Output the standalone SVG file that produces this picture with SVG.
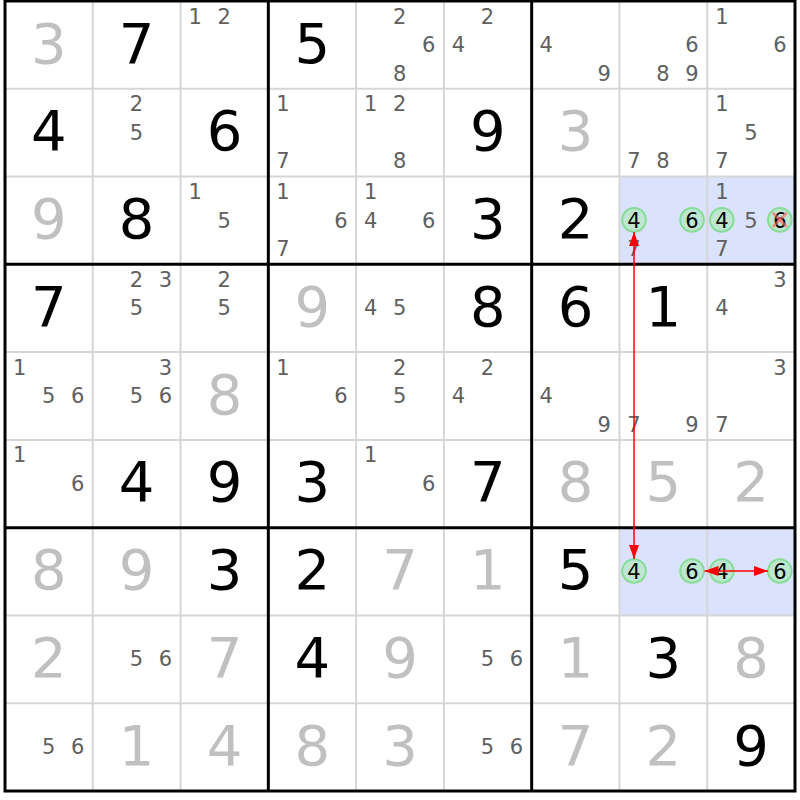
<svg xmlns="http://www.w3.org/2000/svg" width="800" height="800" viewBox="0 0 800 800">
<defs>
<style>
text{font-family:"DejaVu Sans","Liberation Sans",sans-serif;text-anchor:middle}
.b{font-size:56px;fill:#000}
.g{font-size:56px;fill:#c0c0c0}
.c{font-size:21px;fill:#606060}
.h{font-size:21px;fill:#000}
.hl{fill:#dae3fb}
.ring{fill:#90ee90;fill-opacity:0.38;stroke:#86dc96;stroke-width:2}
.thin{stroke:#d6d6d6;stroke-width:2}
.thick{stroke:#000;stroke-width:3}
.link{stroke:#ff0000;stroke-width:1.5;fill:none}
.x{stroke:#ff6060;stroke-opacity:0.6;stroke-width:3}
</style>
<marker id="ah" viewBox="0 0 14 10" refX="14" refY="5" markerWidth="14" markerHeight="10" markerUnits="userSpaceOnUse" orient="auto-start-reverse"><path d="M0,0 L14,5 L0,10 z" fill="#ff0000"/></marker>
</defs>
<rect x="0" y="0" width="800" height="800" fill="#fff"/>
<g id="cells">
<!-- row 0 -->
<g id="r0c0" transform="translate(5,1)"><text class="g" x="43.9" y="61.5">3</text></g>
<g id="r0c1" transform="translate(92.78,1)"><text class="b" x="43.9" y="61.5">7</text></g>
<g id="r0c2" transform="translate(180.56,1)"><text class="c" x="14.6" y="22.5">1</text><text class="c" x="43.6" y="22.5">2</text></g>
<g id="r0c3" transform="translate(268.33,1)"><text class="b" x="43.9" y="61.5">5</text></g>
<g id="r0c4" transform="translate(356.11,1)"><text class="c" x="43.6" y="22.5">2</text><text class="c" x="72.6" y="51">6</text><text class="c" x="43.6" y="79.5">8</text></g>
<g id="r0c5" transform="translate(443.89,1)"><text class="c" x="43.6" y="22.5">2</text><text class="c" x="14.6" y="51">4</text></g>
<g id="r0c6" transform="translate(531.67,1)"><text class="c" x="14.6" y="51">4</text><text class="c" x="72.6" y="79.5">9</text></g>
<g id="r0c7" transform="translate(619.44,1)"><text class="c" x="72.6" y="51">6</text><text class="c" x="43.6" y="79.5">8</text><text class="c" x="72.6" y="79.5">9</text></g>
<g id="r0c8" transform="translate(707.22,1)"><text class="c" x="14.6" y="22.5">1</text><text class="c" x="72.6" y="51">6</text></g>
<!-- row 1 -->
<g id="r1c0" transform="translate(5,88.78)"><text class="b" x="43.9" y="61.5">4</text></g>
<g id="r1c1" transform="translate(92.78,88.78)"><text class="c" x="43.6" y="22.5">2</text><text class="c" x="43.6" y="51">5</text></g>
<g id="r1c2" transform="translate(180.56,88.78)"><text class="b" x="43.9" y="61.5">6</text></g>
<g id="r1c3" transform="translate(268.33,88.78)"><text class="c" x="14.6" y="22.5">1</text><text class="c" x="14.6" y="79.5">7</text></g>
<g id="r1c4" transform="translate(356.11,88.78)"><text class="c" x="14.6" y="22.5">1</text><text class="c" x="43.6" y="22.5">2</text><text class="c" x="43.6" y="79.5">8</text></g>
<g id="r1c5" transform="translate(443.89,88.78)"><text class="b" x="43.9" y="61.5">9</text></g>
<g id="r1c6" transform="translate(531.67,88.78)"><text class="g" x="43.9" y="61.5">3</text></g>
<g id="r1c7" transform="translate(619.44,88.78)"><text class="c" x="14.6" y="79.5">7</text><text class="c" x="43.6" y="79.5">8</text></g>
<g id="r1c8" transform="translate(707.22,88.78)"><text class="c" x="14.6" y="22.5">1</text><text class="c" x="43.6" y="51">5</text><text class="c" x="14.6" y="79.5">7</text></g>
<!-- row 2 -->
<g id="r2c0" transform="translate(5,176.56)"><text class="g" x="43.9" y="61.5">9</text></g>
<g id="r2c1" transform="translate(92.78,176.56)"><text class="b" x="43.9" y="61.5">8</text></g>
<g id="r2c2" transform="translate(180.56,176.56)"><text class="c" x="14.6" y="22.5">1</text><text class="c" x="43.6" y="51">5</text></g>
<g id="r2c3" transform="translate(268.33,176.56)"><text class="c" x="14.6" y="22.5">1</text><text class="c" x="72.6" y="51">6</text><text class="c" x="14.6" y="79.5">7</text></g>
<g id="r2c4" transform="translate(356.11,176.56)"><text class="c" x="14.6" y="22.5">1</text><text class="c" x="14.6" y="51">4</text><text class="c" x="72.6" y="51">6</text></g>
<g id="r2c5" transform="translate(443.89,176.56)"><text class="b" x="43.9" y="61.5">3</text></g>
<g id="r2c6" transform="translate(531.67,176.56)"><text class="b" x="43.9" y="61.5">2</text></g>
<g id="r2c7" transform="translate(619.44,176.56)"><rect class="hl" x="0" y="0" width="87.78" height="87.78"/><circle class="ring" cx="14.6" cy="43.3" r="11.8"/><circle class="ring" cx="72.6" cy="43.3" r="11.8"/><text class="h" x="14.6" y="51">4</text><text class="h" x="72.6" y="51">6</text><text class="c" x="14.6" y="79.5">7</text></g>
<g id="r2c8" transform="translate(707.22,176.56)"><rect class="hl" x="0" y="0" width="87.78" height="87.78"/><circle class="ring" cx="14.6" cy="43.3" r="11.8"/><circle class="ring" cx="72.6" cy="43.3" r="11.8"/><text class="c" x="14.6" y="22.5">1</text><text class="h" x="14.6" y="51">4</text><text class="c" x="43.6" y="51">5</text><text class="h" x="72.6" y="51">6</text><text class="c" x="14.6" y="79.5">7</text><line class="x" x1="65.6" y1="36.3" x2="79.6" y2="50.3"/><line class="x" x1="79.6" y1="36.3" x2="65.6" y2="50.3"/></g>
<!-- row 3 -->
<g id="r3c0" transform="translate(5,264.33)"><text class="b" x="43.9" y="61.5">7</text></g>
<g id="r3c1" transform="translate(92.78,264.33)"><text class="c" x="43.6" y="22.5">2</text><text class="c" x="72.6" y="22.5">3</text><text class="c" x="43.6" y="51">5</text></g>
<g id="r3c2" transform="translate(180.56,264.33)"><text class="c" x="43.6" y="22.5">2</text><text class="c" x="43.6" y="51">5</text></g>
<g id="r3c3" transform="translate(268.33,264.33)"><text class="g" x="43.9" y="61.5">9</text></g>
<g id="r3c4" transform="translate(356.11,264.33)"><text class="c" x="14.6" y="51">4</text><text class="c" x="43.6" y="51">5</text></g>
<g id="r3c5" transform="translate(443.89,264.33)"><text class="b" x="43.9" y="61.5">8</text></g>
<g id="r3c6" transform="translate(531.67,264.33)"><text class="b" x="43.9" y="61.5">6</text></g>
<g id="r3c7" transform="translate(619.44,264.33)"><text class="b" x="43.9" y="61.5">1</text></g>
<g id="r3c8" transform="translate(707.22,264.33)"><text class="c" x="72.6" y="22.5">3</text><text class="c" x="14.6" y="51">4</text></g>
<!-- row 4 -->
<g id="r4c0" transform="translate(5,352.11)"><text class="c" x="14.6" y="22.5">1</text><text class="c" x="43.6" y="51">5</text><text class="c" x="72.6" y="51">6</text></g>
<g id="r4c1" transform="translate(92.78,352.11)"><text class="c" x="72.6" y="22.5">3</text><text class="c" x="43.6" y="51">5</text><text class="c" x="72.6" y="51">6</text></g>
<g id="r4c2" transform="translate(180.56,352.11)"><text class="g" x="43.9" y="61.5">8</text></g>
<g id="r4c3" transform="translate(268.33,352.11)"><text class="c" x="14.6" y="22.5">1</text><text class="c" x="72.6" y="51">6</text></g>
<g id="r4c4" transform="translate(356.11,352.11)"><text class="c" x="43.6" y="22.5">2</text><text class="c" x="43.6" y="51">5</text></g>
<g id="r4c5" transform="translate(443.89,352.11)"><text class="c" x="43.6" y="22.5">2</text><text class="c" x="14.6" y="51">4</text></g>
<g id="r4c6" transform="translate(531.67,352.11)"><text class="c" x="14.6" y="51">4</text><text class="c" x="72.6" y="79.5">9</text></g>
<g id="r4c7" transform="translate(619.44,352.11)"><text class="c" x="14.6" y="79.5">7</text><text class="c" x="72.6" y="79.5">9</text></g>
<g id="r4c8" transform="translate(707.22,352.11)"><text class="c" x="72.6" y="22.5">3</text><text class="c" x="14.6" y="79.5">7</text></g>
<!-- row 5 -->
<g id="r5c0" transform="translate(5,439.89)"><text class="c" x="14.6" y="22.5">1</text><text class="c" x="72.6" y="51">6</text></g>
<g id="r5c1" transform="translate(92.78,439.89)"><text class="b" x="43.9" y="61.5">4</text></g>
<g id="r5c2" transform="translate(180.56,439.89)"><text class="b" x="43.9" y="61.5">9</text></g>
<g id="r5c3" transform="translate(268.33,439.89)"><text class="b" x="43.9" y="61.5">3</text></g>
<g id="r5c4" transform="translate(356.11,439.89)"><text class="c" x="14.6" y="22.5">1</text><text class="c" x="72.6" y="51">6</text></g>
<g id="r5c5" transform="translate(443.89,439.89)"><text class="b" x="43.9" y="61.5">7</text></g>
<g id="r5c6" transform="translate(531.67,439.89)"><text class="g" x="43.9" y="61.5">8</text></g>
<g id="r5c7" transform="translate(619.44,439.89)"><text class="g" x="43.9" y="61.5">5</text></g>
<g id="r5c8" transform="translate(707.22,439.89)"><text class="g" x="43.9" y="61.5">2</text></g>
<!-- row 6 -->
<g id="r6c0" transform="translate(5,527.67)"><text class="g" x="43.9" y="61.5">8</text></g>
<g id="r6c1" transform="translate(92.78,527.67)"><text class="g" x="43.9" y="61.5">9</text></g>
<g id="r6c2" transform="translate(180.56,527.67)"><text class="b" x="43.9" y="61.5">3</text></g>
<g id="r6c3" transform="translate(268.33,527.67)"><text class="b" x="43.9" y="61.5">2</text></g>
<g id="r6c4" transform="translate(356.11,527.67)"><text class="g" x="43.9" y="61.5">7</text></g>
<g id="r6c5" transform="translate(443.89,527.67)"><text class="g" x="43.9" y="61.5">1</text></g>
<g id="r6c6" transform="translate(531.67,527.67)"><text class="b" x="43.9" y="61.5">5</text></g>
<g id="r6c7" transform="translate(619.44,527.67)"><rect class="hl" x="0" y="0" width="87.78" height="87.78"/><circle class="ring" cx="14.6" cy="43.3" r="11.8"/><circle class="ring" cx="72.6" cy="43.3" r="11.8"/><text class="h" x="14.6" y="51">4</text><text class="h" x="72.6" y="51">6</text></g>
<g id="r6c8" transform="translate(707.22,527.67)"><rect class="hl" x="0" y="0" width="87.78" height="87.78"/><circle class="ring" cx="14.6" cy="43.3" r="11.8"/><circle class="ring" cx="72.6" cy="43.3" r="11.8"/><text class="h" x="14.6" y="51">4</text><text class="h" x="72.6" y="51">6</text></g>
<!-- row 7 -->
<g id="r7c0" transform="translate(5,615.44)"><text class="g" x="43.9" y="61.5">2</text></g>
<g id="r7c1" transform="translate(92.78,615.44)"><text class="c" x="43.6" y="51">5</text><text class="c" x="72.6" y="51">6</text></g>
<g id="r7c2" transform="translate(180.56,615.44)"><text class="g" x="43.9" y="61.5">7</text></g>
<g id="r7c3" transform="translate(268.33,615.44)"><text class="b" x="43.9" y="61.5">4</text></g>
<g id="r7c4" transform="translate(356.11,615.44)"><text class="g" x="43.9" y="61.5">9</text></g>
<g id="r7c5" transform="translate(443.89,615.44)"><text class="c" x="43.6" y="51">5</text><text class="c" x="72.6" y="51">6</text></g>
<g id="r7c6" transform="translate(531.67,615.44)"><text class="g" x="43.9" y="61.5">1</text></g>
<g id="r7c7" transform="translate(619.44,615.44)"><text class="b" x="43.9" y="61.5">3</text></g>
<g id="r7c8" transform="translate(707.22,615.44)"><text class="g" x="43.9" y="61.5">8</text></g>
<!-- row 8 -->
<g id="r8c0" transform="translate(5,703.22)"><text class="c" x="43.6" y="51">5</text><text class="c" x="72.6" y="51">6</text></g>
<g id="r8c1" transform="translate(92.78,703.22)"><text class="g" x="43.9" y="61.5">1</text></g>
<g id="r8c2" transform="translate(180.56,703.22)"><text class="g" x="43.9" y="61.5">4</text></g>
<g id="r8c3" transform="translate(268.33,703.22)"><text class="g" x="43.9" y="61.5">8</text></g>
<g id="r8c4" transform="translate(356.11,703.22)"><text class="g" x="43.9" y="61.5">3</text></g>
<g id="r8c5" transform="translate(443.89,703.22)"><text class="c" x="43.6" y="51">5</text><text class="c" x="72.6" y="51">6</text></g>
<g id="r8c6" transform="translate(531.67,703.22)"><text class="g" x="43.9" y="61.5">7</text></g>
<g id="r8c7" transform="translate(619.44,703.22)"><text class="g" x="43.9" y="61.5">2</text></g>
<g id="r8c8" transform="translate(707.22,703.22)"><text class="b" x="43.9" y="61.5">9</text></g>
</g>
<g id="grid">
<line class="thin" x1="92.78" y1="1" x2="92.78" y2="791"/>
<line class="thin" x1="180.56" y1="1" x2="180.56" y2="791"/>
<line class="thin" x1="356.11" y1="1" x2="356.11" y2="791"/>
<line class="thin" x1="443.89" y1="1" x2="443.89" y2="791"/>
<line class="thin" x1="619.44" y1="1" x2="619.44" y2="791"/>
<line class="thin" x1="707.22" y1="1" x2="707.22" y2="791"/>
<line class="thin" x1="5" y1="88.78" x2="795" y2="88.78"/>
<line class="thin" x1="5" y1="176.56" x2="795" y2="176.56"/>
<line class="thin" x1="5" y1="352.11" x2="795" y2="352.11"/>
<line class="thin" x1="5" y1="439.89" x2="795" y2="439.89"/>
<line class="thin" x1="5" y1="615.44" x2="795" y2="615.44"/>
<line class="thin" x1="5" y1="703.22" x2="795" y2="703.22"/>
<line class="thick" x1="268.33" y1="1" x2="268.33" y2="791"/>
<line class="thick" x1="531.67" y1="1" x2="531.67" y2="791"/>
<line class="thick" x1="5" y1="264.33" x2="795" y2="264.33"/>
<line class="thick" x1="5" y1="527.67" x2="795" y2="527.67"/>
<rect x="5" y="1" width="790" height="790" fill="none" stroke="#000" stroke-width="3"/>
</g>
<g id="connectors">
<line class="link" x1="634.04" y1="232" x2="634.04" y2="559" marker-start="url(#ah)" marker-end="url(#ah)"/>
<line class="link" x1="704.5" y1="570.97" x2="768" y2="570.97" marker-start="url(#ah)" marker-end="url(#ah)"/>
</g>
</svg>
